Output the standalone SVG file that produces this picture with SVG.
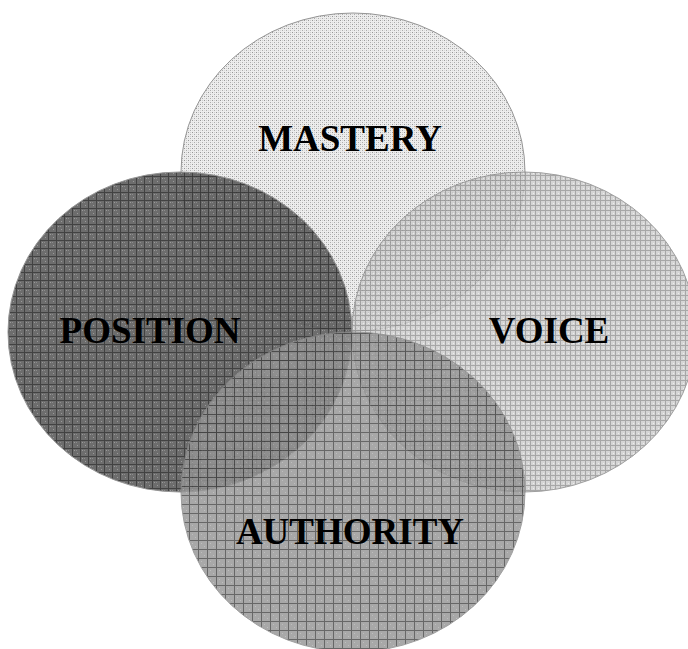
<svg xmlns="http://www.w3.org/2000/svg" width="688" height="649" viewBox="0 0 688 649">
<defs>
<pattern id="pM" width="4" height="4" patternUnits="userSpaceOnUse">
<rect width="4" height="4" fill="#ececec"/>
<rect x="0" y="0" width="1" height="1" fill="#8c8c8c"/>
<rect x="2" y="2" width="1" height="1" fill="#a4a4a4"/>
<rect x="2" y="0" width="1" height="1" fill="#c8c8c8"/>
<rect x="0" y="2" width="1" height="1" fill="#d4d4d4"/>
</pattern>
<pattern id="pP" width="8" height="8" patternUnits="userSpaceOnUse">
<rect width="8" height="8" fill="#5e5e5e"/>
<rect x="2" y="2" width="1" height="1" fill="#909090"/>
<rect x="5" y="5" width="1" height="1" fill="#909090"/>
<rect x="4" y="2" width="1" height="1" fill="#808080"/>
<rect x="0" y="0" width="8" height="1" fill="#2e2e2e"/>
<rect x="0" y="0" width="1" height="8" fill="#2e2e2e"/>
</pattern>
<pattern id="pV" width="5" height="5" patternUnits="userSpaceOnUse">
<rect width="5" height="5" fill="#cdcdcd"/>
<rect x="0" y="0" width="5" height="1" fill="#949494"/>
<rect x="0" y="0" width="1" height="5" fill="#949494"/>
<rect x="3" y="3" width="1" height="1" fill="#eaeaea"/>
</pattern>
<pattern id="pA" width="9" height="9" patternUnits="userSpaceOnUse">
<rect width="9" height="9" fill="#969696"/>
<rect x="3" y="3" width="1" height="1" fill="#b0b0b0"/>
<rect x="6" y="6" width="1" height="1" fill="#b0b0b0"/>
<rect x="0" y="0" width="9" height="1" fill="#464646"/>
<rect x="0" y="0" width="1" height="9" fill="#464646"/>
</pattern>
<style>
.c{stroke:#8a8a8a;stroke-width:1}
.t{font-family:"Liberation Serif","Times New Roman",serif;font-weight:bold;font-size:37px;fill:#000;text-anchor:middle}
</style>
</defs>
<rect width="688" height="649" fill="#fff"/>
<g id="mastery">
<ellipse class="c" cx="353" cy="172" rx="172" ry="159" fill="url(#pM)" opacity="0.9"/>
</g>
<g id="position">
<ellipse class="c" cx="180" cy="332" rx="172" ry="160" fill="url(#pP)" opacity="0.9"/>
</g>
<g id="voice">
<ellipse class="c" cx="524" cy="332" rx="172" ry="160" fill="url(#pV)" opacity="0.82"/>
</g>
<g id="authority">
<ellipse class="c" cx="353" cy="492" rx="172" ry="160" fill="url(#pA)" opacity="0.82"/>
</g>
<g id="labels">
<text class="t" x="350" y="151">MASTERY</text>
<text class="t" x="150" y="343">POSITION</text>
<text class="t" x="549" y="343">VOICE</text>
<text class="t" x="350" y="544">AUTHORITY</text>
</g>
<g id="connectors"/>
</svg>
